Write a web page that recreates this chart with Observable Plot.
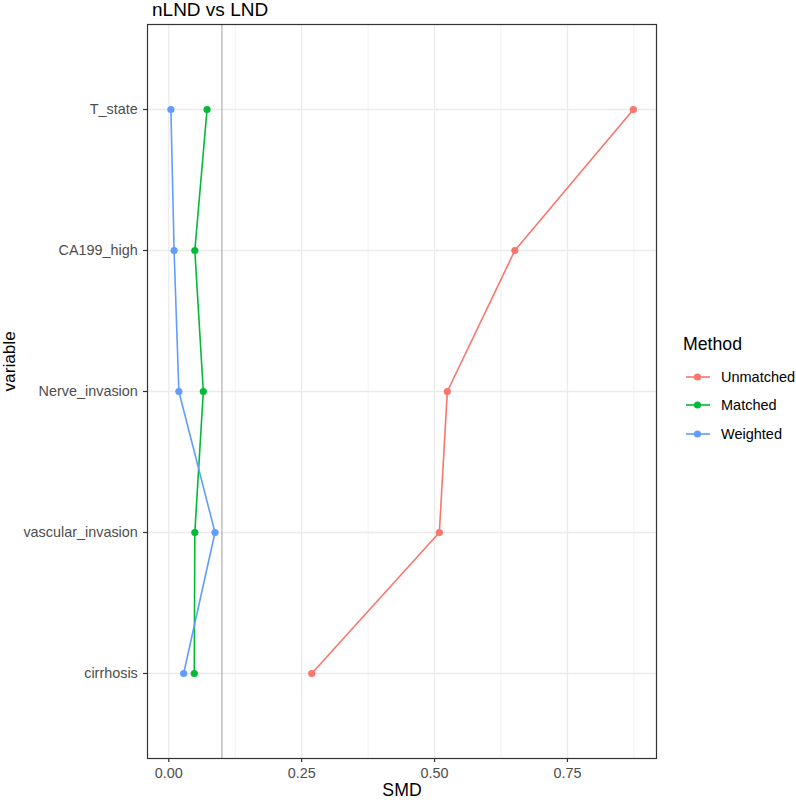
<!DOCTYPE html>
<html><head><meta charset="utf-8">
<script src="https://cdn.jsdelivr.net/npm/d3@7"></script>
<script src="https://cdn.jsdelivr.net/npm/@observablehq/plot@0.6"></script>
<style>
body{margin:0;background:#fff;font-family:"Liberation Sans",Arial,Helvetica,sans-serif;}
#wrap{position:relative;width:796px;height:800px;}
#legend{position:absolute;left:0;top:0;color:#000;}
#legend .ttl{position:absolute;left:683px;font-size:17.7px;line-height:1.117em;white-space:nowrap;}
#legend .item{position:absolute;left:686px;display:flex;align-items:center;height:16.2px;font-size:14.5px;line-height:16.2px;white-space:nowrap;}
#legend svg{margin-right:11px;display:block;}
</style></head><body><div id="wrap"><div id="chart"></div><div id="legend"></div></div>
<script>
const variables = ["T_state","CA199_high","Nerve_invasion","vascular_invasion","cirrhosis"];
const methods = ["Unmatched","Matched","Weighted"];
const colors = ["#F8766D","#00BA38","#619CFF"];
const unmatched = [0.874,0.651,0.524,0.509,0.269];
const matched = [0.072,0.049,0.065,0.049,0.048];
const weighted = [0.004,0.010,0.019,0.087,0.028];
const xTicks = [0,0.25,0.5,0.75];
const xMinor = [0.125,0.375,0.625,0.875];
const threshold = 0.1;
const titleText = "nLND vs LND";
const xLabel = "SMD";
const yLabel = "variable";
const legendTitle = "Method";

const series = [unmatched, matched, weighted];
const data = [];
methods.forEach((m,i)=>variables.forEach((v,j)=>data.push({method:m, variable:v, smd:series[i][j]})));

const plot = Plot.plot({
  width: 796, height: 800,
  marginTop: 24, marginBottom: 42, marginLeft: 147, marginRight: 140,
  style: {fontFamily: '"Liberation Sans", Arial, Helvetica, sans-serif', fontSize: "14.4px", background: "#fff"},
  x: {domain: [-0.0400, 0.9175]},
  y: {type: "point", domain: variables, padding: 0.6},
  color: {domain: methods, range: colors},
  marks: [
    Plot.ruleX(xMinor, {stroke: "#ebebeb", strokeWidth: 0.7}),
    Plot.ruleX(xTicks, {stroke: "#ebebeb", strokeWidth: 1.3}),
    Plot.ruleY(variables, {y: d => d, stroke: "#ebebeb", strokeWidth: 1.3}),
    Plot.ruleX([threshold], {stroke: "#a8a8a8", strokeWidth: 1.1}),
    Plot.line(data, {x: "smd", y: "variable", z: "method", stroke: "method", strokeWidth: 1.6}),
    Plot.dot(data, {x: "smd", y: "variable", fill: "method", r: 3.6}),
    Plot.frame({stroke: "#333333", strokeWidth: 1.2}),
    Plot.axisX({ticks: xTicks, tickFormat: d3.format(".2f"), tickSize: 4, tickPadding: 5.5, color: "#333333", fill: "#4d4d4d", strokeWidth: 1.2, label: null}),
    Plot.axisY({tickSize: 4, tickPadding: 5.7, color: "#333333", fill: "#4d4d4d", strokeWidth: 1.2, label: null}),
    Plot.text([xLabel], {frameAnchor: "bottom", lineAnchor: "middle", dy: 31.5, fontSize: 17.7, fill: "#000"}),
    Plot.text([yLabel], {frameAnchor: "left", lineAnchor: "middle", dx: -138, rotate: -90, fontSize: 17.2, fill: "#000"}),
    Plot.text([titleText], {frameAnchor: "top-left", lineAnchor: "middle", dx: 4.5, dy: -15, textAnchor: "start", fontSize: 19, fill: "#000"})
  ]
});
document.getElementById("chart").appendChild(plot);

const lg = document.getElementById("legend");
const t = document.createElement("div"); t.className = "ttl"; t.textContent = legendTitle; t.style.top = "334.7px"; lg.appendChild(t);
methods.forEach((m,i)=>{
  const it = document.createElement("div"); it.className = "item";
  it.style.top = (369.1 + i*28.3) + "px";
  it.innerHTML = `<svg width="24" height="12"><line x1="0" x2="24" y1="6" y2="6" stroke="${colors[i]}" stroke-width="1.6"/><circle cx="11.5" cy="6" r="3.6" fill="${colors[i]}"/></svg><span>${m}</span>`;
  lg.appendChild(it);
});
</script>
</body></html>
